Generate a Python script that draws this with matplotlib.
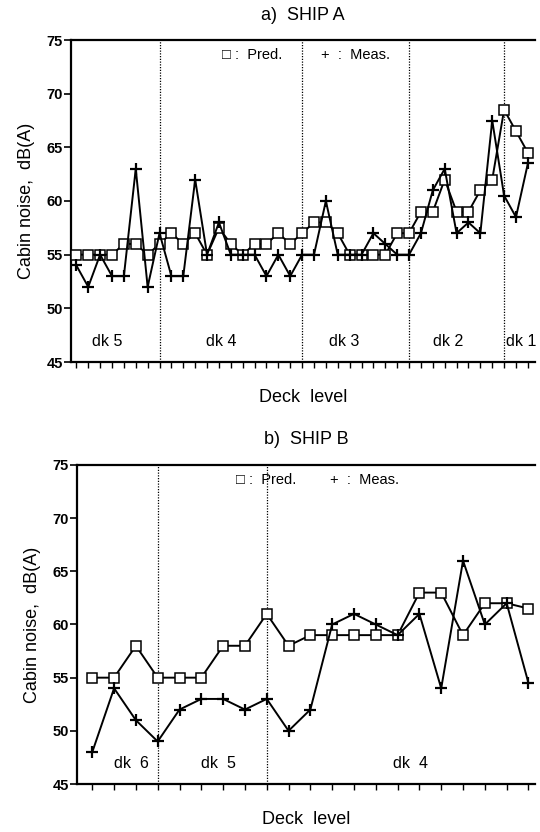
import matplotlib
matplotlib.use("Agg")
import matplotlib.pyplot as plt
import numpy as np

plt.rcParams['font.family'] = ['Liberation Sans', 'DejaVu Sans']

# Ship A data
a_pred = [55, 55, 55, 55, 56, 56, 55, 56, 57, 56, 57, 55, 57.5, 56, 55, 56, 56, 57, 56, 57,
          58, 58, 57, 55, 55, 55, 55, 57, 57, 59, 59, 62, 59, 59, 61, 62, 68.5, 66.5, 64.5]
a_meas = [54, 52, 55, 53, 53, 63, 52, 57, 53, 53, 62, 55, 58, 55, 55, 55, 53, 55, 53, 55,
          55, 60, 55, 55, 55, 57, 56, 55, 55, 57, 61, 63, 57, 58, 57, 67.5, 60.5, 58.5, 63.5]
a_bounds = [7, 19, 28, 36]
a_decks = ["dk 5", "dk 4", "dk 3", "dk 2", "dk 1"]

# Ship B data
b_pred = [55, 55, 58, 55, 55, 55, 58, 58, 61, 58, 59, 59, 59, 59, 59, 63, 63, 59, 62, 62, 61.5]
b_meas = [48, 54, 51, 49, 52, 53, 53, 52, 53, 50, 52, 60, 61, 60, 59, 61, 54, 66, 60, 62, 54.5]
b_bounds = [3, 8]
b_decks = ["dk  6", "dk  5", "dk  4"]

yticks = [45, 50, 55, 60, 65, 70, 75]

W, H = 540, 832
fig = plt.figure(figsize=(W / 100, H / 100), dpi=100)


def make_ax(left, top, right, bottom):
    return fig.add_axes([left / W, 1 - bottom / H, (right - left) / W, (bottom - top) / H])


def draw(ax, pred, meas, bounds, decks, deck_x, xlim, title, title_y, legend_pos):
    x = np.arange(len(pred))
    ax.plot(x, pred, color='black', lw=1.4, marker='s', ms=6.5, mfc='white', mec='black', mew=1.1, zorder=3)
    ax.plot(x, meas, color='black', lw=1.4, marker='+', ms=8, mew=1.6, zorder=4)
    for b in bounds:
        ax.axvline(b, color='black', lw=0.9, ls=(0, (1, 1.2)), zorder=2)
    for d, dx in zip(decks, deck_x):
        ax.text(dx, 46.2, d, ha='center', va='bottom', fontsize=11.5)
    ax.set_xlim(*xlim)
    ax.set_ylim(45, 75)
    ax.set_yticks(yticks)
    ax.set_yticklabels([str(t) for t in yticks], fontsize=10.5, fontweight='bold')
    ax.set_xticks(x)
    ax.set_xticklabels([])
    ax.tick_params(axis='x', direction='out', length=4, width=1)
    ax.tick_params(axis='y', direction='out', length=5, width=1.2, pad=1)
    for s in ['left', 'bottom', 'top']:
        ax.spines[s].set_linewidth(1.6)
    ax.spines['right'].set_visible(False)
    ax.set_ylabel("Cabin noise,  dB(A)", fontsize=13, labelpad=8)
    ax.set_xlabel("Deck  level", fontsize=13, labelpad=12)
    fig.text(ax.get_position().x0 + ax.get_position().width / 2, 1 - title_y / H, title,
             ha='center', va='center', fontsize=13)
    lx1, lx2 = legend_pos
    ax.text(lx1, 73.6, "\u25a1 :  Pred.", ha='left', va='center', fontsize=10.5)
    ax.text(lx2, 73.6, "+  :  Meas.", ha='left', va='center', fontsize=10.5)


ax1 = make_ax(71, 40, 535, 362)
draw(ax1, a_pred, a_meas, a_bounds, a_decks, [2.6, 12.2, 22.5, 31.3, 37.4], (-0.45, 38.6),
     "a)  SHIP A", 16, (12.3, 20.6))

ax2 = make_ax(77, 465, 535, 784)
draw(ax2, b_pred, b_meas, b_bounds, b_decks, [1.8, 5.8, 14.6], (-0.7, 20.3),
     "b)  SHIP B", 440, (6.6, 10.9))

fig.savefig("out.png", dpi=100)
